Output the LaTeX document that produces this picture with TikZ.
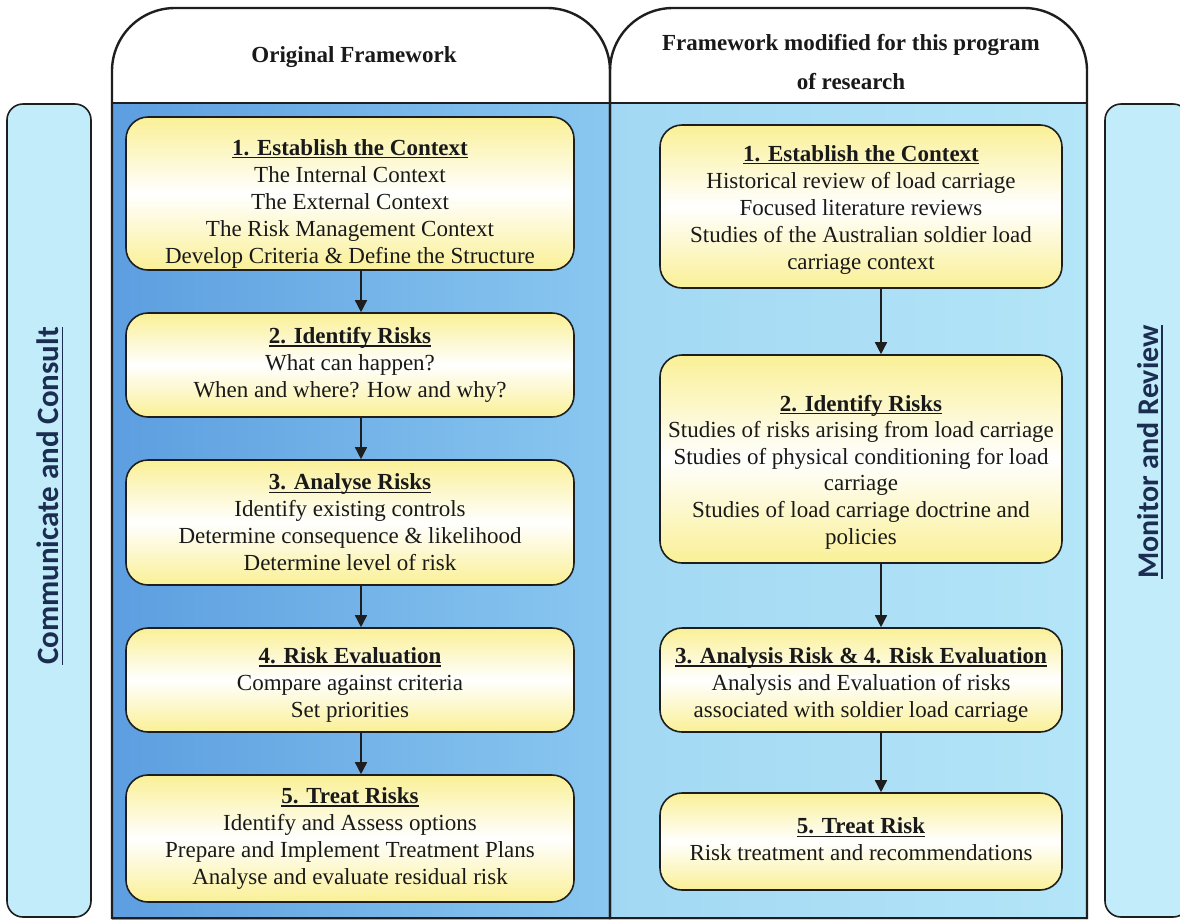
\documentclass[tikz,border=0pt]{standalone}
\usepackage{fontspec}
\setmainfont{Liberation Serif}
\newfontfamily\sidefont{Carlito}
\usetikzlibrary{arrows.meta,shadings}
\definecolor{lineC}{RGB}{30,30,30}
\definecolor{txtC}{RGB}{25,25,25}
\definecolor{navyC}{RGB}{28,45,82}
\definecolor{boxY}{RGB}{250,240,150}
\definecolor{leftA}{RGB}{92,158,224}
\definecolor{leftB}{RGB}{138,200,240}
\definecolor{rightA}{RGB}{162,216,243}
\definecolor{rightB}{RGB}{180,229,248}
\definecolor{sideC}{RGB}{194,236,250}
\newcommand{\myul}[2][-3pt]{\setbox0=\hbox{#2}\rlap{\rule[#1]{\wd0}{1.2pt}}\box0}
\newcommand{\hd}[1]{\myul{\bfseries #1}}
\begin{document}
\begin{tikzpicture}[x=1pt,y=-1pt,
  frame/.style={draw=lineC,line width=2.4pt},
  stagebox/.style={draw=lineC,line width=1.6pt,rounded corners=22pt,
    top color=boxY,bottom color=boxY,middle color=white,inner sep=0pt},
  leftbox/.style={stagebox,minimum width=448pt},
  rightbox/.style={stagebox,minimum width=402pt},
  boxtext/.style={align=center,inner sep=0pt,text=txtC,
    font=\rmfamily\fontsize{23}{27}\selectfont},
  sidepanel/.style={draw=lineC,line width=1.6pt,rounded corners=16pt,fill=sideC,
    minimum width=84pt,minimum height=813pt,inner sep=0pt},
  sidetext/.style={rotate=90,text=navyC,inner sep=0pt},
  hdr/.style={align=center,inner sep=0pt,text=txtC,
    font=\rmfamily\bfseries\fontsize{23}{27}\selectfont},
  arr/.style={draw=lineC,line width=1.5pt,-{Triangle[width=12pt,length=12pt]}}]
\useasboundingbox (0,0) rectangle (1180,919);
\clip (0,0) rectangle (1180,919);
\fill[white] (0,0) rectangle (1180,919);

% side panels
\node[sidepanel] (cc) at (49,510.5) {};
\node[sidepanel] (mr) at (1147,510.5) {};
\node[sidetext,font=\sidefont\bfseries\fontsize{31}{36}\selectfont] (cct) at (50,496) {\myul[-4pt]{Communicate and Consult}};
\node[sidetext,font=\sidefont\bfseries\fontsize{30}{35}\selectfont] (mrt) at (1150,452) {\myul[-4pt]{Monitor and Review}};

% container bodies
\shade[left color=leftA,right color=leftB] (112,103) rectangle (610,919);
\shade[left color=rightA,right color=rightB] (610,103) rectangle (1087,919);
\draw[frame,rounded corners=63pt] (112,919) -- (112,8) -- (610,8) -- (610,919);
\draw[frame,rounded corners=63pt] (610,919) -- (610,8) -- (1087,8) -- (1087,919);
\draw[frame] (112,103) -- (1087,103);
\draw[frame] (112,918) -- (1087,918);

% headers
\node[hdr] (h1) at (354,57) {Original Framework};
\node[hdr] (h2) at (851,62) {Framework modified for this program\\[12pt]of research};

% left column
\node[leftbox,minimum height=153pt] (b1) at (350,193.5) {};
\node[boxtext] (b1t) at ([yshift=-10pt]b1.center) {\hd{1. Establish the Context}\\The Internal Context\\The External Context\\The Risk Management Context\\Develop Criteria \& Define the Structure};
\node[leftbox,minimum height=104pt] (b2) at (350,365) {};
\node[boxtext] (b2t) at (b2.center) {\hd{2. Identify Risks}\\What can happen?\\When and where? How and why?};
\node[leftbox,minimum height=125pt] (b3) at (350,522.5) {};
\node[boxtext] (b3t) at (b3.center) {\hd{3. Analyse Risks}\\Identify existing controls\\Determine consequence \& likelihood\\Determine level of risk};
\node[leftbox,minimum height=104pt] (b4) at (350,680) {};
\node[boxtext] (b4t) at ([yshift=-5pt]b4.center) {\hd{4. Risk Evaluation}\\Compare against criteria\\Set priorities};
\node[leftbox,minimum height=127pt] (b5) at (350,838.5) {};
\node[boxtext] (b5t) at (b5.center) {\hd{5. Treat Risks}\\Identify and Assess options\\Prepare and Implement Treatment Plans\\Analyse and evaluate residual risk};

% right column
\node[rightbox,minimum height=163pt] (r1) at (861,206.5) {};
\node[boxtext] (r1t) at ([yshift=-3pt]r1.center) {\hd{1. Establish the Context}\\Historical review of load carriage\\Focused literature reviews\\Studies of the Australian soldier load\\carriage context};
\node[rightbox,minimum height=208pt] (r2) at (861,459) {};
\node[boxtext,font=\rmfamily\fontsize{23}{26.6}\selectfont] (r2t) at ([yshift=-13pt]r2.center) {\hd{2. Identify Risks}\\Studies of risks arising from load carriage\\Studies of physical conditioning for load\\carriage\\Studies of load carriage doctrine and\\policies};
\node[rightbox,minimum height=104pt] (r3) at (861,680) {};
\node[boxtext] (r3t) at ([yshift=-5pt]r3.center) {\hd{3. Analysis Risk \& 4. Risk Evaluation}\\Analysis and Evaluation of risks\\associated with soldier load carriage};
\node[rightbox,minimum height=97pt] (r4) at (861,841.5) {};
\node[boxtext] (r4t) at ([yshift=2pt]r4.center) {\hd{5. Treat Risk}\\Risk treatment and recommendations};

% arrows
\coordinate (ax) at (361,0);
\coordinate (bx) at (881,0);
\draw[arr] (b1.south -| ax) -- (b2.north -| ax);
\draw[arr] (b2.south -| ax) -- (b3.north -| ax);
\draw[arr] (b3.south -| ax) -- (b4.north -| ax);
\draw[arr] (b4.south -| ax) -- (b5.north -| ax);
\draw[arr] (r1.south -| bx) -- (r2.north -| bx);
\draw[arr] (r2.south -| bx) -- (r3.north -| bx);
\draw[arr] (r3.south -| bx) -- (r4.north -| bx);
\end{tikzpicture}
\end{document}
